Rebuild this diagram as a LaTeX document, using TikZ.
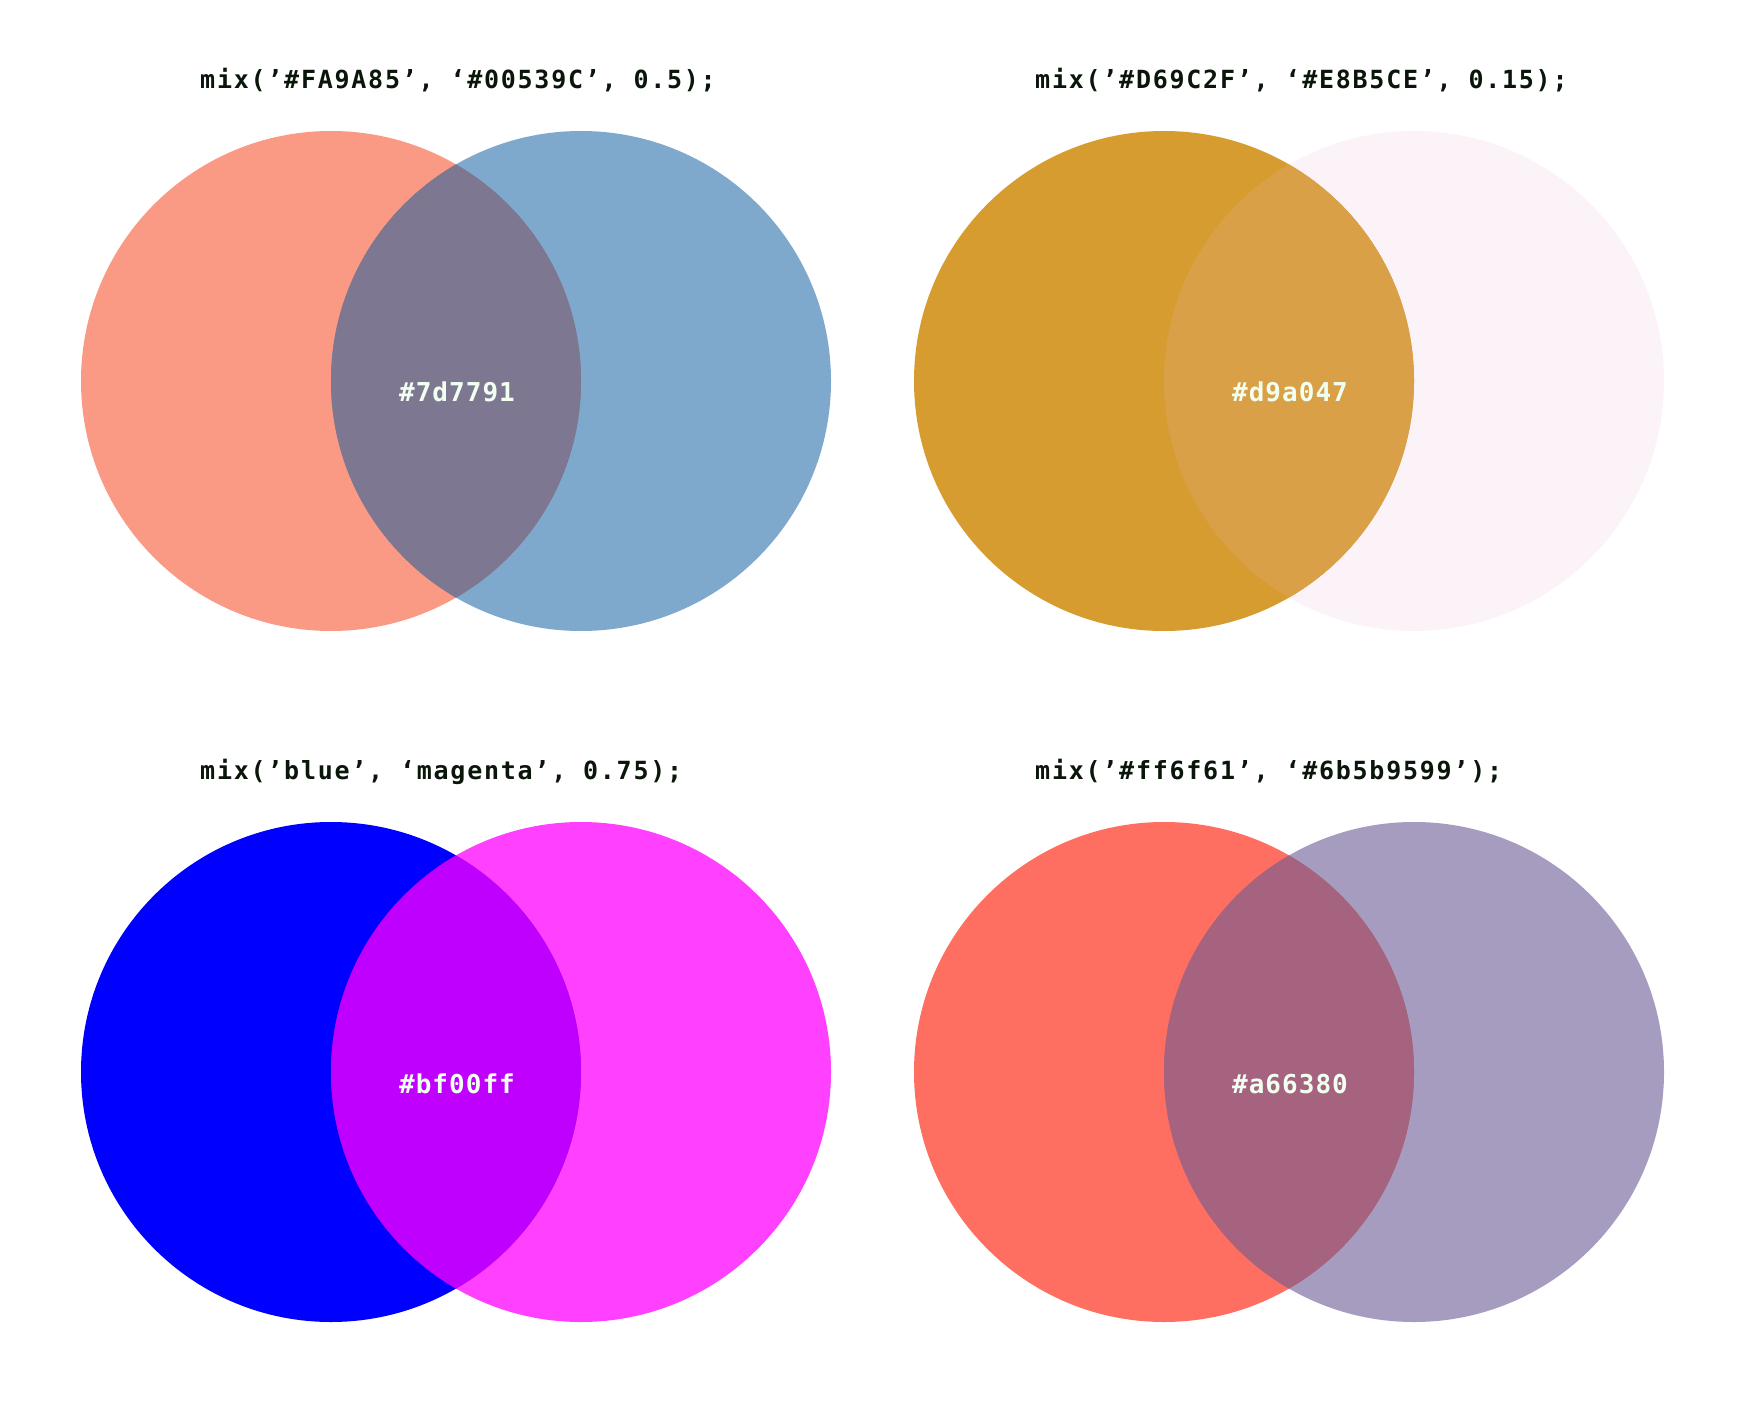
\documentclass[tikz,border=0pt]{standalone}
\usepackage{fontspec}
\newfontfamily\codefont{DejaVu Sans Mono}[LetterSpace=7]
\newfontfamily\hexfont{DejaVu Sans Mono}[LetterSpace=4]

\definecolor{ink}{HTML}{0B160B}
\definecolor{mint}{HTML}{F0FFF0}
\definecolor{peach}{HTML}{FA9A85}
\definecolor{navy}{HTML}{00539C}
\definecolor{mixpn}{HTML}{7D7791}
\definecolor{ochre}{HTML}{D69C2F}
\definecolor{rose}{HTML}{E8B5CE}
\definecolor{mixor}{HTML}{D9A047}
\definecolor{pureblue}{HTML}{0000FF}
\definecolor{fuchsia}{HTML}{FF00FF}
\definecolor{mixbm}{HTML}{BF00FF}
\definecolor{living}{HTML}{FF6F61}
\definecolor{ultra}{HTML}{6B5B95}
\definecolor{mixlu}{HTML}{A66380}

\tikzset{
  call/.style={anchor=base west, inner sep=0pt, text=ink, font=\codefont\bfseries\fontsize{25}{29}\selectfont},
  hexlabel/.style={anchor=base, inner sep=0pt, text=mint, font=\hexfont\bfseries\fontsize{26}{30}\selectfont}
}

\begin{document}
\begin{tikzpicture}[x=1pt,y=-1pt]
  \fill[white] (0,0) rectangle (1749,1415);

  % top left
  \node[call] (callpn) at (200,89) {mix(’\#FA9A85’, ‘\#00539C’, 0.5);};
  \fill[peach] (331,381) circle (250);
  \fill[navy, fill opacity=0.5] (581,381) circle (250);
  \begin{scope}
    \clip (331,381) circle (250);
    \fill[mixpn] (581,381) circle (250);
  \end{scope}
  \node[hexlabel] (hexpn) at (457,401) {\#7d7791};

  % top right
  \node[call] (callor) at (1035,89) {mix(’\#D69C2F’, ‘\#E8B5CE’, 0.15);};
  \fill[ochre] (1164,381) circle (250);
  \fill[rose, fill opacity=0.15] (1414,381) circle (250);
  \begin{scope}
    \clip (1164,381) circle (250);
    \fill[mixor] (1414,381) circle (250);
  \end{scope}
  \node[hexlabel] (hexor) at (1290,401) {\#d9a047};

  % bottom left
  \node[call] (callbm) at (200,779) {mix(’blue’, ‘magenta’, 0.75);};
  \fill[pureblue] (331,1072) circle (250);
  \fill[fuchsia, fill opacity=0.75] (581,1072) circle (250);
  \begin{scope}
    \clip (331,1072) circle (250);
    \fill[mixbm] (581,1072) circle (250);
  \end{scope}
  \node[hexlabel] (hexbm) at (457,1093) {\#bf00ff};

  % bottom right
  \node[call] (calllu) at (1035,779) {mix(’\#ff6f61’, ‘\#6b5b9599’);};
  \fill[living] (1164,1072) circle (250);
  \fill[ultra, fill opacity=0.6] (1414,1072) circle (250);
  \begin{scope}
    \clip (1164,1072) circle (250);
    \fill[mixlu] (1414,1072) circle (250);
  \end{scope}
  \node[hexlabel] (hexlu) at (1290,1093) {\#a66380};
\end{tikzpicture}
\end{document}
